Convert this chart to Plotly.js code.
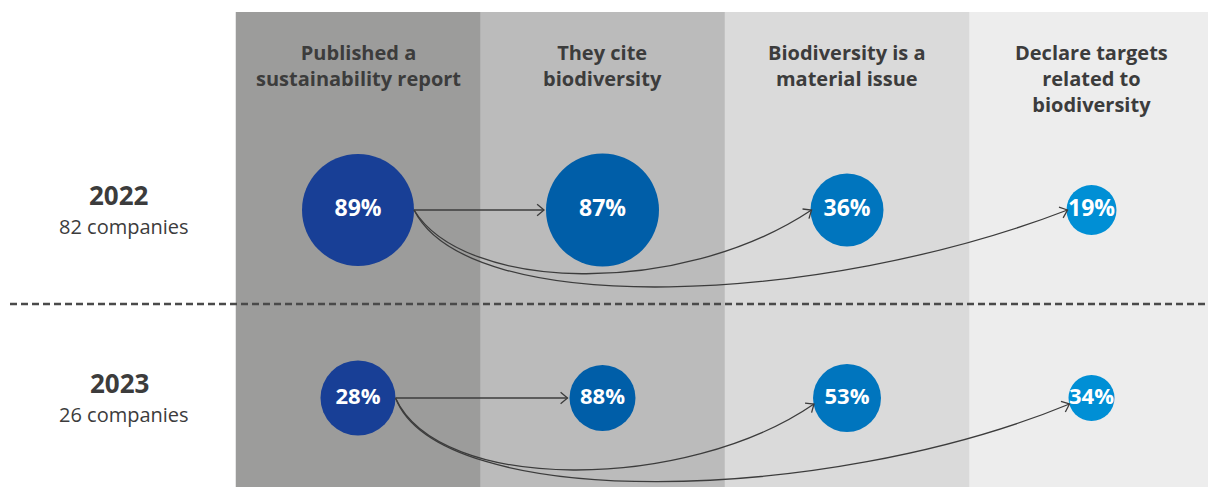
<!DOCTYPE html>
<html>
<head>
<meta charset="utf-8">
<script src="https://cdn.plot.ly/plotly-3.0.1.min.js"></script>
<style>html,body{margin:0;padding:0;background:#fff;}#chart{width:1208px;height:487px;}</style>
</head>
<body>
<div id="chart"></div>
<script>
// ---- data ----
const categories = ["Published a sustainability report", "They cite biodiversity", "Biodiversity is a material issue", "Declare targets related to biodiversity"];
const headerLabels = ["Published a<br>sustainability report", "They cite<br>biodiversity", "Biodiversity is a<br>material issue", "Declare targets<br>related to<br>biodiversity"];
const years = ["2022", "2023"];
const companies = [82, 26];
const values2022 = [89, 87, 36, 19];
const values2023 = [28, 88, 53, 34];

// ---- style ----
const diam2022 = [112, 113, 73, 50];
const diam2023 = [75, 66, 68, 46];
const circleColors = ["#183f96", "#005ea8", "#0075be", "#008fd5"];
const bgColors = ["#9c9c9b", "#bbbbbb", "#dadada", "#ededed"];
const textColor = "#3c3c3c";
const FONT = "Open Sans, Noto Sans, sans-serif";

// pixel <-> data helpers (column width 244.5px, row spacing 188px)
const COLW = 244.5, X0 = 358, ROWH = 188, Y0 = 210;
const X = px => (px - X0) / COLW;
const Y = py => (py - Y0) / ROWH;
const PX = x => X0 + x * COLW;
const PY = y => Y0 + y * ROWH;

const xIdx = categories.map((c, i) => i);
const rows = [values2022, values2023];
const diams = [diam2022, diam2023];

const traces = rows.map((vals, r) => ({
  type: "scatter",
  mode: "markers+text",
  x: xIdx,
  y: xIdx.map(() => r),
  marker: {size: diams[r], color: circleColors, line: {width: 0}, opacity: 1},
  text: vals.map(v => "<b>" + v + "%</b>"),
  textposition: "middle center",
  textfont: {family: FONT, size: r === 0 ? 23 : 22, color: "#ffffff"},
  hoverinfo: "skip",
  cliponaxis: false
}));

const shapes = [];
// column backgrounds (slight overlap to avoid seams)
bgColors.forEach((c, i) => {
  shapes.push({type: "rect", xref: "x", yref: "y", x0: i - 0.5, x1: i + 0.5 + (i < 3 ? 0.01 : 0), y0: Y(12), y1: Y(487),
    fillcolor: c, line: {width: 0}, layer: "below"});
});
// dashed separator between rows
shapes.push({type: "line", xref: "x", yref: "y", x0: X(10), x1: X(1208), y0: 0.5, y1: 0.5,
  line: {color: "#4a4a4a", width: 2.5, dash: "7px,4px"}});

// arrows
const lineStyle = {color: "#3c3c3c", width: 1.3};
function p(x, y) { return X(x).toFixed(5) + "," + Y(y).toFixed(5); }
function arrowHead(ex, ey, dx, dy) {
  const L = Math.hypot(dx, dy); const ux = dx / L, uy = dy / L;
  const len = 9, ang = 40 * Math.PI / 180;
  const c = Math.cos(ang), s = Math.sin(ang);
  const ax = ex - len * (ux * c - uy * s), ay = ey - len * (uy * c + ux * s);
  const bx = ex - len * (ux * c + uy * s), by = ey - len * (uy * c - ux * s);
  return "M" + p(ax, ay) + " L" + p(ex, ey) + " L" + p(bx, by);
}
// control point offsets (px) per row, per target column (2 and 3)
const ctrl = [
  {2: [[50, 82], [-132, 88]], 3: [[55, 110], [-246, 95]]},
  {2: [[44, 96], [-128, 88]], 3: [[44, 114], [-245, 101]]}
];
const endDrop = [0, 6];
rows.forEach((vals, r) => {
  const sx = PX(0) + diams[r][0] / 2, sy = PY(r);
  // straight arrow to column 1
  const ex1 = PX(1) - diams[r][1] / 2 - 2, ey1 = PY(r);
  shapes.push({type: "path", xref: "x", yref: "y", path: "M" + p(sx, sy) + " L" + p(ex1, ey1), line: lineStyle});
  shapes.push({type: "path", xref: "x", yref: "y", path: arrowHead(ex1, ey1, 1, 0), line: lineStyle});
  [2, 3].forEach(ci => {
    const ex = PX(ci) - diams[r][ci] / 2 + 1, ey = PY(r) + endDrop[r];
    const c1 = [sx + ctrl[r][ci][0][0], sy + ctrl[r][ci][0][1]];
    const c2 = [ex + ctrl[r][ci][1][0], ey + ctrl[r][ci][1][1]];
    shapes.push({type: "path", xref: "x", yref: "y",
      path: "M" + p(sx, sy) + " C" + p(c1[0], c1[1]) + " " + p(c2[0], c2[1]) + " " + p(ex, ey), line: lineStyle});
    shapes.push({type: "path", xref: "x", yref: "y", path: arrowHead(ex, ey, ex - c2[0], ey - c2[1]), line: lineStyle});
  });
});

const annotations = [];
headerLabels.forEach((h, i) => {
  annotations.push({xref: "x", yref: "y", x: i, y: Y(37), yanchor: "top", xanchor: "center", showarrow: false,
    text: "<b>" + h + "</b>", align: "center", font: {family: FONT, size: 20, color: textColor}});
});
years.forEach((yr, r) => {
  annotations.push({xref: "x", yref: "y", x: X(119), y: r - 15 / ROWH, showarrow: false,
    text: "<b>" + yr + "</b>", font: {family: FONT, size: 26, color: textColor}});
  annotations.push({xref: "x", yref: "y", x: X(124), y: r + 16 / ROWH, showarrow: false,
    text: companies[r] + " companies", font: {family: FONT, size: 20, color: textColor}});
});

const layout = {
  width: 1208, height: 487,
  margin: {l: 0, r: 0, t: 0, b: 0},
  paper_bgcolor: "#ffffff", plot_bgcolor: "#ffffff",
  showlegend: false,
  xaxis: {range: [X(0), X(1208)], visible: false, fixedrange: true},
  yaxis: {range: [Y(487), Y(0)], visible: false, fixedrange: true},
  shapes: shapes,
  annotations: annotations,
  font: {family: FONT, color: textColor}
};
Plotly.newPlot("chart", traces, layout, {staticPlot: true, displayModeBar: false});
</script>
</body>
</html>
